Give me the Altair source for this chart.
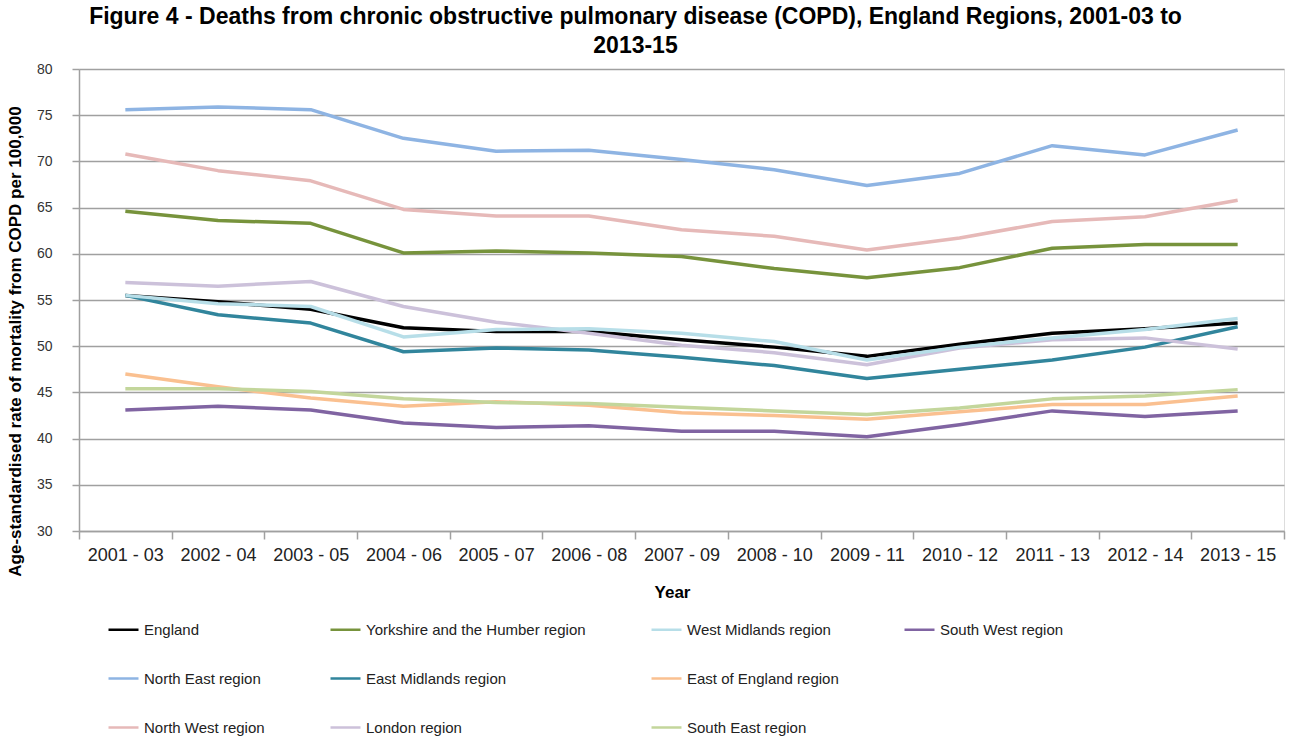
import altair as alt
import pandas as pd

# Three-year rolling periods
periods = [
    "2001 - 03", "2002 - 04", "2003 - 05", "2004 - 06", "2005 - 07",
    "2006 - 08", "2007 - 09", "2008 - 10", "2009 - 11", "2010 - 12",
    "2011 - 13", "2012 - 14", "2013 - 15",
]

# Age-standardised COPD mortality rate per 100,000
england = [55.5, 54.8, 54.0, 52.0, 51.6, 51.6, 50.7, 49.9, 48.9, 50.2, 51.4, 51.9, 52.5]
north_east = [75.6, 75.9, 75.6, 72.5, 71.1, 71.2, 70.2, 69.1, 67.4, 68.7, 71.7, 70.7, 73.4]
north_west = [70.8, 69.0, 67.9, 64.8, 64.1, 64.1, 62.6, 61.9, 60.4, 61.7, 63.5, 64.0, 65.8]
yorkshire = [64.6, 63.6, 63.3, 60.1, 60.3, 60.1, 59.7, 58.4, 57.4, 58.5, 60.6, 61.0, 61.0]
east_midlands = [55.5, 53.4, 52.5, 49.4, 49.8, 49.6, 48.8, 47.9, 46.5, 47.5, 48.5, 49.9, 52.1]
london = [56.9, 56.5, 57.0, 54.3, 52.6, 51.4, 50.1, 49.3, 48.0, 49.8, 50.7, 50.9, 49.7]
west_midlands = [55.5, 54.6, 54.3, 51.0, 51.8, 51.9, 51.4, 50.5, 48.5, 49.9, 50.9, 51.8, 53.0]
east_of_england = [47.0, 45.6, 44.4, 43.5, 44.0, 43.6, 42.8, 42.5, 42.1, 42.9, 43.7, 43.7, 44.6]
south_east = [45.4, 45.4, 45.1, 44.3, 43.9, 43.8, 43.4, 43.0, 42.6, 43.3, 44.3, 44.6, 45.3]
south_west = [43.1, 43.5, 43.1, 41.7, 41.2, 41.4, 40.8, 40.8, 40.2, 41.5, 43.0, 42.4, 43.0]

# Series in drawing order (later ones sit on top)
series = {
    "England": england,
    "North East region": north_east,
    "North West region": north_west,
    "Yorkshire and the Humber region": yorkshire,
    "East Midlands region": east_midlands,
    "London region": london,
    "West Midlands region": west_midlands,
    "East of England region": east_of_england,
    "South East region": south_east,
    "South West region": south_west,
}

colours = {
    "England": "#000000",
    "North East region": "#8EB4E3",
    "North West region": "#E6B9B8",
    "Yorkshire and the Humber region": "#77933C",
    "East Midlands region": "#31859C",
    "London region": "#CCC1DA",
    "West Midlands region": "#B7DEE8",
    "East of England region": "#FAC090",
    "South East region": "#C3D69B",
    "South West region": "#8064A2",
    " ": "rgba(0,0,0,0)",
}

# Legend grid, filled row by row; the blank entry keeps the last cell of row two empty
legend_order = [
    "England", "Yorkshire and the Humber region", "West Midlands region", "South West region",
    "North East region", "East Midlands region", "East of England region", " ",
    "North West region", "London region", "South East region",
]

names = list(series)

rows = []
for name, vals in series.items():
    for p, v in zip(periods, vals):
        rows.append({"period": p, "region": name, "rate": v})
df = pd.DataFrame(rows)

FONT = "Liberation Sans"
GRID = "#A0A0A0"

base = alt.Chart(df).mark_line(strokeWidth=3.5, strokeJoin="round").encode(
    x=alt.X(
        "period:N",
        sort=periods,
        title="Year",
        scale=alt.Scale(paddingInner=0, paddingOuter=0),
        axis=alt.Axis(
            labelAngle=0,
            labelFont=FONT,
            labelFontSize=18,
            labelColor="#222222",
            labelPadding=7,
            tickSize=8,
            tickBand="extent",
            tickColor=GRID,
            tickWidth=1.5,
            domainColor=GRID,
            domainWidth=1.5,
            grid=False,
            titleFont=FONT,
            titleFontSize=17,
            titleFontWeight="bold",
            titleColor="#000000",
            titleX=593,
            titleY=53,
        ),
    ),
    y=alt.Y(
        "rate:Q",
        title="Age-standardised rate of mortality from COPD per 100,000",
        scale=alt.Scale(domain=[30, 80], nice=False, zero=False),
        axis=alt.Axis(
            values=list(range(30, 81, 5)),
            labelFont=FONT,
            labelFontSize=14,
            labelColor="#333333",
            labelPadding=20,
            tickSize=7,
            tickColor=GRID,
            tickWidth=1.5,
            domainColor=GRID,
            domainWidth=1.5,
            gridColor=GRID,
            gridWidth=1.5,
            titleFont=FONT,
            titleFontSize=17,
            titleFontWeight="bold",
            titleColor="#000000",
            titleX=-55,
            titleY=272,
        ),
    ),
    color=alt.Color(
        "region:N",
        scale=alt.Scale(domain=legend_order, range=[colours[r] for r in legend_order]),
        legend=alt.Legend(
            title=None,
            orient="none",
            direction="horizontal",
            legendX=28,
            legendY=544,
            columns=4,
            gridAlign="each",
            columnPadding=60,
            rowPadding=24,
            symbolType="stroke",
            symbolSize=900,
            symbolStrokeWidth=2.5,
            labelFont=FONT,
            labelFontSize=15,
            labelColor="#222222",
            labelOffset=4,
            labelLimit=400,
        ),
    ),
)

# Draw series one after another so later regions sit on top
layers = [base.transform_filter(alt.datum.region == name) for name in names]

chart = alt.layer(*layers).properties(
    width=1205,
    height=462,
    padding={"left": 79, "top": 69, "right": 13, "bottom": 209},
    autosize=alt.AutoSizeParams(type="none"),
    title=alt.TitleParams(
        text=[
            "Figure 4 - Deaths from chronic obstructive pulmonary disease (COPD), England Regions, 2001-03 to",
            "2013-15",
        ],
        font=FONT,
        fontSize=23,
        fontWeight="bold",
        color="#000000",
        anchor="middle",
        dx=-46,
        offset=4,
        lineHeight=29,
    ),
).configure_view(stroke=None).configure(background="white")

chart.save("out.html", embed_options={"renderer": "svg", "actions": False})
